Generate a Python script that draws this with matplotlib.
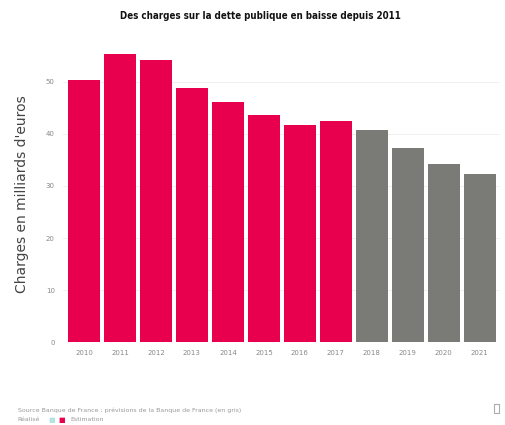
import matplotlib
matplotlib.use("Agg")
import matplotlib.pyplot as plt
from matplotlib.patches import Rectangle

years = ["2010", "2011", "2012", "2013", "2014", "2015", "2016", "2017", "2018", "2019", "2020", "2021"]
charges = [50.3, 55.4, 54.2, 48.8, 46.2, 43.7, 41.7, 42.5, 40.8, 37.3, 34.3, 32.4]
is_forecast = [False] * 8 + [True] * 4
yticks = [0, 10, 20, 30, 40, 50]

red = "#e8004f"
grey = "#7a7a77"

fig = plt.figure(figsize=(5.05, 4.25), dpi=100)
ax = fig.add_axes([0.125, 0.195, 0.865, 0.698])

x = list(range(len(years)))
colors = [grey if f else red for f in is_forecast]
ax.bar(x, charges, width=0.9, color=colors, zorder=2)

ax.set_xlim(-0.58, 11.56)
ax.set_ylim(0, 57)
ax.set_yticks(yticks)
ax.set_yticklabels([str(t) for t in yticks], fontsize=5, color="#888888")
ax.set_xticks(x)
ax.set_xticklabels(years, fontsize=5, color="#888888")
ax.tick_params(axis="both", length=0, pad=6)
ax.yaxis.grid(True, color="#eeeeee", linewidth=0.6, zorder=0)
for s in ax.spines.values():
    s.set_visible(False)

ax.set_ylabel("Charges en milliards d'euros", fontsize=10, color="#444444", labelpad=12)

fig.text(0.515, 0.963, "Des charges sur la dette publique en baisse depuis 2011",
         ha="center", va="center", fontsize=7, fontweight="heavy",
         fontstretch="condensed", color="#111111")

fig.text(0.035, 0.035, "Source Banque de France ; prévisions de la Banque de France (en gris)",
         fontsize=4.5, color="#999999", va="center")
fig.text(0.035, 0.012, "Réalisé", fontsize=4.5, color="#999999", va="center")
fig.text(0.095, 0.012, "■", fontsize=5, color="#b5e3e0", va="center")
fig.text(0.115, 0.012, "■", fontsize=5, color=red, va="center")
fig.text(0.14, 0.012, "Estimation", fontsize=4.5, color="#999999", va="center")
fig.add_artist(Rectangle((0.978, 0.028), 0.01, 0.022, transform=fig.transFigure,
                         facecolor="none", edgecolor="#aaaaaa", linewidth=0.8))

fig.savefig("out.png", dpi=100)
